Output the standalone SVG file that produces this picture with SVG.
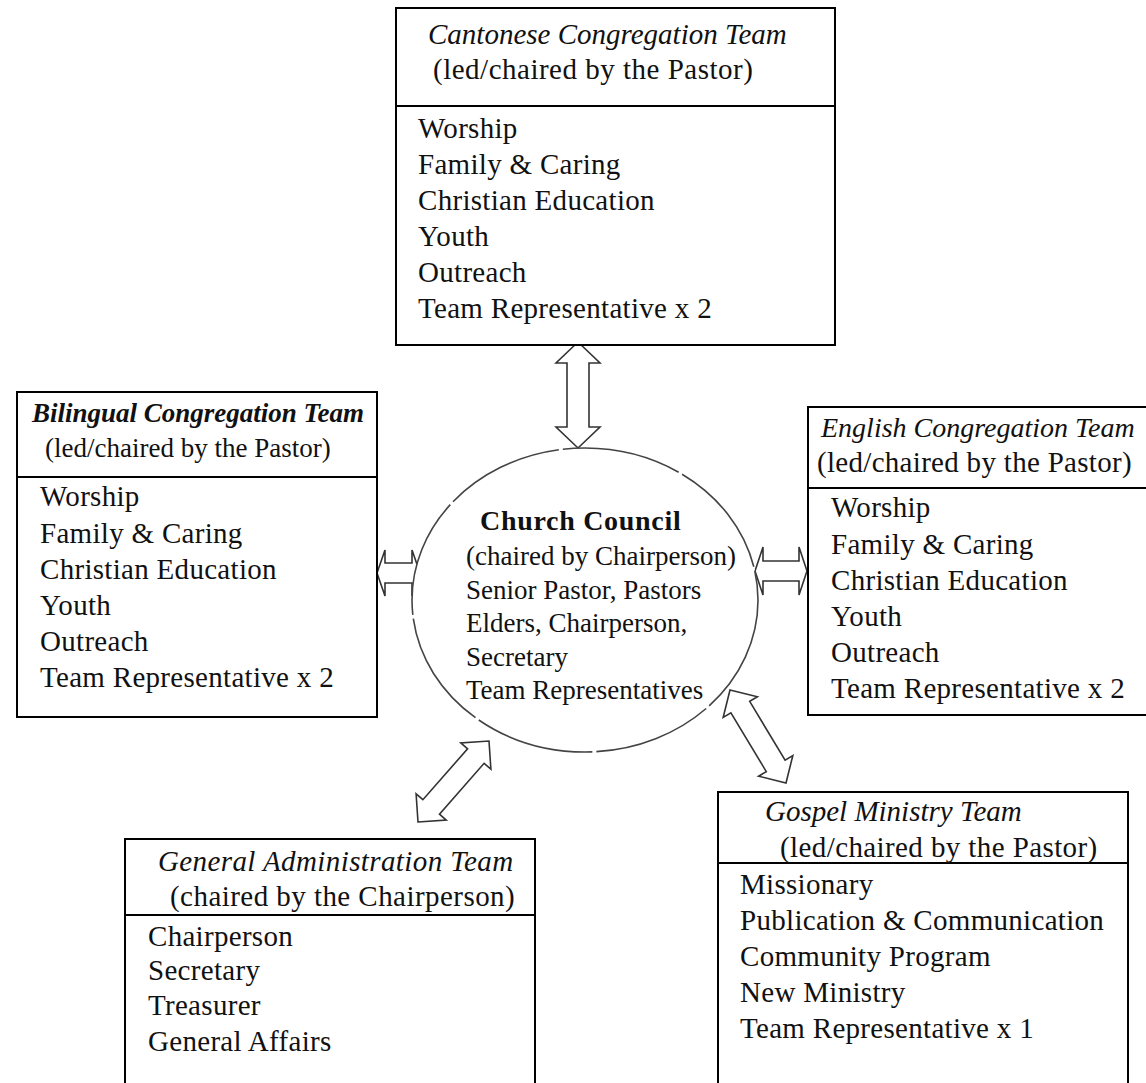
<svg xmlns="http://www.w3.org/2000/svg" width="1146" height="1083" viewBox="0 0 1146 1083">
<style>
  .box { fill: #fff; stroke: #000; stroke-width: 2; }
  .div { stroke: #000; stroke-width: 2; }
  text { font-family: "Liberation Serif", "Times New Roman", serif; fill: #111; }
  .t { font-size: 29px; font-style: italic; }
  .s { font-size: 29px; }
  .b { font-size: 29px; letter-spacing: 0.3px; }
  .c { font-size: 27px; }
  .arrow { fill: #fff; stroke: #333; stroke-width: 1.6; stroke-linejoin: miter; }
</style>

<g id="connectors">
  <polygon class="arrow" points="578,342 600,363 589,363 589,427 600,427 578,448 556,427 567,427 567,363 556,363"/>
  <polygon class="arrow" points="377,573 385,550 385,563 412,563 412,550 420,573 412,596 412,583 385,583 385,596"/>
  <polygon class="arrow" points="755,571 763,547 763,561 799,561 799,547 807,571 799,595 799,581 763,581 763,595"/>
  <polygon class="arrow" points="418,822 446.2,820.1 439.5,814.2 484.1,763.3 490.9,769.2 489,741 460.8,742.9 467.6,748.8 422.9,799.7 416.1,793.8"/>
  <polygon class="arrow" points="730,690 757.4,696.8 749.7,701.4 785.1,760.2 792.8,755.6 786,783 758.6,776.2 766.3,771.6 730.9,712.8 723.2,717.4"/>
</g>

<g id="council">
  <ellipse cx="585" cy="600" rx="173" ry="152" fill="#fff" stroke="#444" stroke-width="1.6" stroke-dasharray="120 4"/>
  <text x="480" y="530" font-size="28" font-weight="bold" letter-spacing="0.7">Church Council</text>
  <text class="c" x="466" y="565">(chaired by Chairperson)</text>
  <text class="c" x="466" y="599">Senior Pastor, Pastors</text>
  <text class="c" x="466" y="632">Elders, Chairperson,</text>
  <text class="c" x="466" y="666">Secretary</text>
  <text class="c" x="466" y="699">Team Representatives</text>
</g>

<g id="cantonese">
  <rect class="box" x="396" y="8" width="439" height="337"/>
  <line class="div" x1="396" y1="106" x2="835" y2="106"/>
  <text class="t" x="428" y="44">Cantonese Congregation Team</text>
  <text class="s" x="433" y="79" letter-spacing="0.5">(led/chaired by the Pastor)</text>
  <text class="b" x="418" y="138">Worship</text>
  <text class="b" x="418" y="174">Family &amp; Caring</text>
  <text class="b" x="418" y="210">Christian Education</text>
  <text class="b" x="418" y="246">Youth</text>
  <text class="b" x="418" y="282">Outreach</text>
  <text class="b" x="418" y="318">Team Representative x 2</text>
</g>

<g id="bilingual">
  <rect class="box" x="17" y="392" width="360" height="325"/>
  <line class="div" x1="17" y1="477" x2="377" y2="477"/>
  <text x="32" y="422" font-size="27" font-style="italic" font-weight="bold">Bilingual Congregation Team</text>
  <text x="45" y="457" font-size="27">(led/chaired by the Pastor)</text>
  <text class="b" x="40" y="506">Worship</text>
  <text class="b" x="40" y="543">Family &amp; Caring</text>
  <text class="b" x="40" y="579">Christian Education</text>
  <text class="b" x="40" y="615">Youth</text>
  <text class="b" x="40" y="651">Outreach</text>
  <text class="b" x="40" y="687">Team Representative x 2</text>
</g>

<g id="english">
  <rect class="box" x="808" y="407" width="345" height="308"/>
  <line class="div" x1="808" y1="488" x2="1153" y2="488"/>
  <text x="821" y="437" font-size="28" font-style="italic">English Congregation Team</text>
  <text class="s" x="817" y="472" letter-spacing="0.3">(led/chaired by the Pastor)</text>
  <text class="b" x="831" y="517">Worship</text>
  <text class="b" x="831" y="554">Family &amp; Caring</text>
  <text class="b" x="831" y="590">Christian Education</text>
  <text class="b" x="831" y="626">Youth</text>
  <text class="b" x="831" y="662">Outreach</text>
  <text class="b" x="831" y="698">Team Representative x 2</text>
</g>

<g id="general-administration">
  <rect class="box" x="125" y="839" width="410" height="260"/>
  <line class="div" x1="125" y1="915" x2="535" y2="915"/>
  <text class="t" x="158" y="871" letter-spacing="0.4">General Administration Team</text>
  <text class="s" x="170" y="906" letter-spacing="0.45">(chaired by the Chairperson)</text>
  <text class="b" x="148" y="946">Chairperson</text>
  <text class="b" x="148" y="980">Secretary</text>
  <text class="b" x="148" y="1015">Treasurer</text>
  <text class="b" x="148" y="1051">General Affairs</text>
</g>

<g id="gospel-ministry">
  <rect class="box" x="718" y="792" width="410" height="310"/>
  <line class="div" x1="718" y1="863" x2="1128" y2="863"/>
  <text class="t" x="765" y="821">Gospel Ministry Team</text>
  <text class="s" x="780" y="857" letter-spacing="0.4">(led/chaired by the Pastor)</text>
  <text class="b" x="740" y="894">Missionary</text>
  <text class="b" x="740" y="930">Publication &amp; Communication</text>
  <text class="b" x="740" y="966">Community Program</text>
  <text class="b" x="740" y="1002">New Ministry</text>
  <text class="b" x="740" y="1038">Team Representative x 1</text>
</g>
</svg>
